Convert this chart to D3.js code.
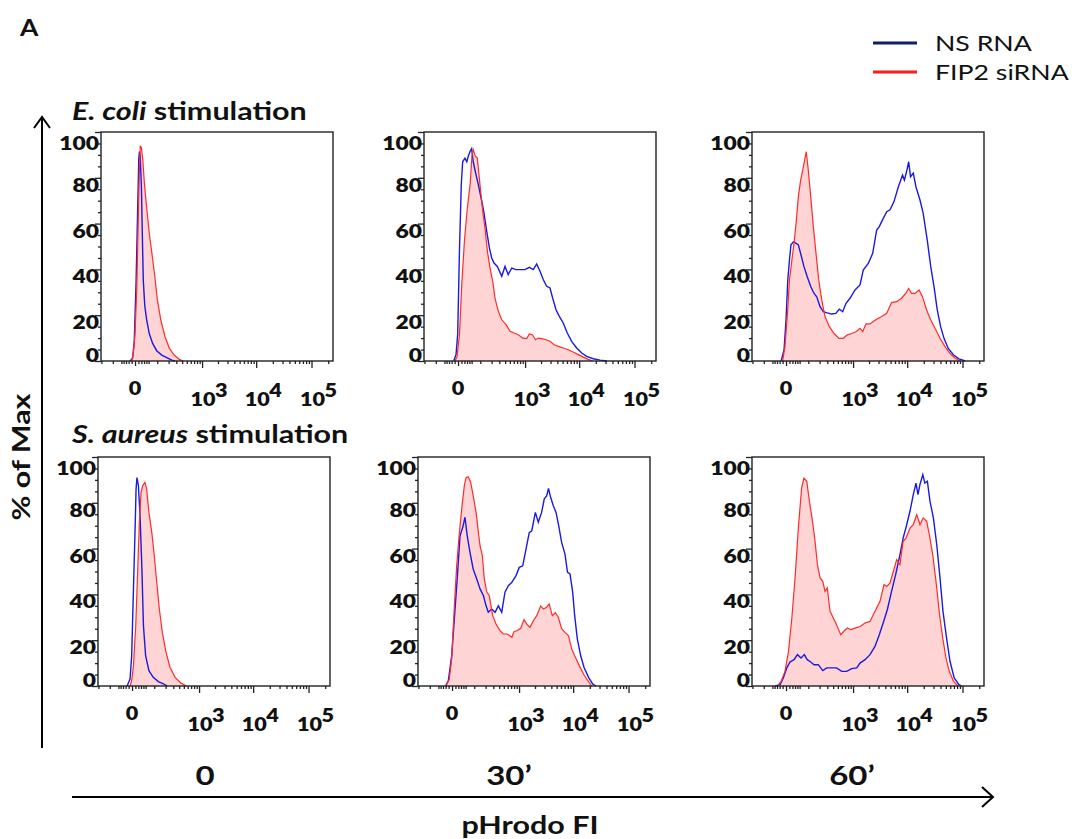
<!DOCTYPE html>
<html>
<head>
<meta charset="utf-8">
<script src="https://cdn.jsdelivr.net/npm/d3@7"></script>
<style>
  body { margin: 0; background: #fff; }
  svg text { font-family: Lato, "Open Sans", sans-serif; fill: #111; }
</style>
</head>
<body>
<svg id="chart" width="1075" height="839"></svg>
<script>
// histogram outlines: [pHrodo FI, % of max]
const ecoli0_ns = [[-15,0],[-7,1.2],[-2,9],[3,35],[7,62],[11,88],[13,91.5],[16,89],[20,76],[23,57],[27,35],[33,24],[41,18],[53,12],[71,7.7],[96,4.5],[134,2.6],[180,1.5],[237,0.4],[281,0]];
const ecoli0_fip2 = [[-10,0],[-5,3.3],[0,12],[5,32],[9.5,62],[13,83],[16,94],[20,93],[25,88],[31,78],[41,67],[53,56],[67,47],[84,37],[100,27],[126,18],[163,10.6],[209,5.5],[267,2.6],[350,0.7],[424,0]];

const ecoli30_ns = [[-13,0],[-5.7,2.8],[-1,11.5],[4,48],[9.5,77],[14,87],[22,88.6],[29,87],[35,89.4],[43,91.6],[50,92.7],[58,87],[73,81.4],[87,77],[111,69.7],[128,64.6],[151,56.6],[177,49.3],[201,45],[228,42.8],[271,41.3],[339,37],[398,41.3],[463,37.7],[547,40.6],[666,39.9],[798,39.9],[998,39.9],[1207,40.9],[1435,39.9],[1660,42.4],[1915,39.2],[2210,35.5],[2550,32.6],[2932,31.9],[3280,27.5],[3783,22.4],[4350,19.5],[5130,16.6],[6080,12.2],[7300,8.6],[9000,5.7],[11100,3.5],[13650,2],[18000,1],[23840,0.4],[31500,0]];
const ecoli30_fip2 = [[-9,0],[-2.6,2],[4,11.5],[11,33.3],[20,52.3],[31,66.8],[43,77],[52,90],[58,92.3],[69,89.4],[81,88.6],[98,77],[118,65.4],[136,58],[157,48],[183,40.6],[213,34.8],[240,27.5],[285,21.7],[339,18],[418,15.9],[505,13],[608,12.2],[740,11.5],[900,10],[1075,9.8],[1207,11.8],[1380,11.5],[1580,9.3],[1780,10],[2060,9.8],[2474,9.3],[2932,8.6],[3475,7.1],[4170,6.4],[5130,5.7],[6340,4.9],[7760,3.9],[9640,2.8],[11900,1.7],[14600,0.7],[17600,0]];

const ecoli60_ns = [[-15,0],[-5.7,4.8],[0,18],[5,35.4],[10,44],[15,50.7],[23.5,52],[34,51.4],[44,50.7],[57,46.3],[73,41.2],[93,36.8],[118,32.5],[145,29.5],[170,28],[205,23.7],[244,21.5],[300,21],[373,20.5],[453,20.8],[536,22.6],[627,21.5],[730,25.2],[873,27.4],[1090,31],[1356,33.2],[1560,39.7],[1940,42.6],[2340,47],[2770,57.2],[3100,58.7],[3550,61.6],[4240,65.2],[4876,66],[5760,69.6],[6900,76],[8240,81.2],[8900,79],[9900,83.4],[10650,87],[11500,80.5],[12900,82],[14440,76],[17050,70.3],[19500,64.5],[23100,52.8],[26700,41.2],[30600,32.5],[35000,22.3],[40300,15],[46330,9.9],[55300,5.5],[69000,2.6],[86500,0.9],[112000,0]];
const ecoli60_fip2 = [[-10,0],[-3,6.3],[4,20.8],[10,35.4],[18,44],[26,51.4],[34,60],[44,71.8],[55,79],[66,83.4],[77,87.8],[87,91.4],[100,83.4],[118,71.8],[139,58.7],[163,47],[190,35.4],[225,26.6],[267,19.4],[333,15],[418,12],[528,9.9],[645,9.9],[775,11.4],[940,12],[1139,12.8],[1356,14.3],[1520,12.8],[1758,16.2],[2086,16.2],[2400,17.2],[2770,18.2],[3430,19.4],[4240,20.8],[5200,25.5],[6440,25.9],[7890,27.4],[9400,29.5],[10650,31.7],[12000,29.5],[13850,29.5],[16400,31],[19000,28],[22500,22.3],[26700,17.9],[31900,14.3],[39250,9.9],[48300,6.3],[59460,3.3],[73500,1.2],[91000,0]];

const aureus0_ns = [[-15,0],[-5.7,3],[-1,13.2],[4,42.4],[9.5,71.5],[12,86],[15,91],[20,87.5],[26,74.4],[33,52.5],[40,26.3],[50,13.2],[67,6.7],[93,3.8],[131,1.9],[177,0.9],[220,0]];
const aureus0_fip2 = [[-5.7,0],[-1,2.3],[4,8.9],[11,26.3],[18,52.5],[23.5,71.5],[30,84.6],[37,87.5],[47,88.9],[55,86],[67,75.8],[84,67],[100,57],[118,45.3],[139,33.6],[166,23.4],[205,14.7],[253,8.2],[328,3.8],[432,1.3],[572,0]];

const aureus30_ns = [[-21,0],[-11,2.3],[-1,13.2],[9.5,35],[18,51],[26,65.6],[37,69.3],[47,73.7],[58,65.6],[73,58.4],[93,51],[118,46.7],[145,42.4],[177,39.4],[205,35],[231,32.2],[276,33.6],[328,32.2],[385,35],[453,32.2],[528,41],[617,43.8],[725,45.3],[873,48.2],[1010,51.8],[1175,52.5],[1356,59.8],[1560,67],[1740,67.8],[2030,75.8],[2300,71.5],[2650,75.8],[2970,81.7],[3280,83],[3550,86.3],[3880,82.4],[4350,78.7],[4876,75.8],[5450,70],[6170,62.7],[7100,57.6],[7890,49.6],[8760,48.9],[9800,41],[10650,30.7],[11900,20.5],[13700,13.2],[15700,8.2],[19000,3.8],[22500,0.9],[25900,0]];
const aureus30_fip2 = [[-18.6,0],[-8,3],[-1,11.8],[5.7,32.2],[14,52.5],[23.5,67],[34,78.7],[44,87.5],[52,91],[63,91.4],[77,89],[93,83],[113,75.8],[131,67],[145,61.3],[166,57],[186,46.7],[213,41],[244,39.4],[291,30.7],[344,27],[418,24.2],[488,22.7],[589,22.7],[725,21.3],[798,23.7],[925,24.2],[1075,25.2],[1243,29],[1400,27],[1612,25.6],[1860,28.5],[2150,30.7],[2550,35],[2860,33.6],[3280,34.4],[3650,35.8],[4170,30.7],[4750,32],[5370,30],[6170,25],[7100,23.4],[8200,22],[9400,16.2],[10650,13.2],[12900,8.9],[15700,4.8],[19000,1.9],[21700,0]];

const aureus60_ns = [[-38,0],[-18.6,0.6],[-8,3.5],[2,7.9],[12,10.5],[26,11.5],[40,13.7],[57,12.2],[75,13.7],[93,11.5],[118,10.5],[145,9.3],[186,9.3],[237,6.7],[291,7.9],[373,7.9],[470,7.9],[600,6.4],[755,6.4],[940,7.6],[1175,7.9],[1356,10],[1685,11.5],[2086,13.7],[2580,17.3],[3100,22.4],[3650,27.5],[4350,33.3],[5200,41.3],[6170,48.6],[7200,56],[8450,64.6],[9800,70.4],[11250,76.3],[12900,83.6],[14440,88.6],[15700,83.6],[17050,88],[19200,92.3],[20900,88.6],[23200,89.4],[25900,80.6],[29800,73.4],[34300,61.7],[39250,47.2],[44400,32.6],[51500,21],[59460,10.8],[70800,3.5],[86500,0.6],[96000,0]];
const aureus60_fip2 = [[-28,0],[-15,2],[-3,6.4],[7,15],[18,29.7],[30,47.2],[44,69],[60,86.5],[73,90.8],[90,89.4],[108,80.6],[128,73.4],[151,64.6],[177,53],[205,47.2],[237,45.7],[267,41.3],[300,42.8],[344,32.6],[404,29.7],[470,26.8],[572,22.4],[666,24],[775,25.3],[900,24.6],[1090,25.3],[1356,26],[1685,27.5],[2086,28.2],[2580,32.6],[3192,37],[3783,44.3],[4240,43.5],[4876,45],[5600,50],[6440,55.2],[7400,53],[8450,63.2],[9520,64.6],[11250,69],[12900,70.5],[14900,74.8],[17050,70.5],[19500,73.4],[22500,72],[25200,66],[29000,57.4],[33240,45.7],[38600,31],[43900,21],[50350,12.2],[57700,6.4],[69000,2],[83000,0]];

const timepoints = ["0", "30\u2019", "60\u2019"];
const stimulations = ["E. coli", "S. aureus"];
const seriesNames = ["NS RNA", "FIP2 siRNA"];
const panelData = [
  [[ecoli0_ns, ecoli0_fip2], [ecoli30_ns, ecoli30_fip2], [ecoli60_ns, ecoli60_fip2]],
  [[aureus0_ns, aureus0_fip2], [aureus30_ns, aureus30_fip2], [aureus60_ns, aureus60_fip2]]
];
const yTicks = [0, 20, 40, 60, 80, 100];
const yMinorTicks = [5,10,15,25,30,35,45,50,55,65,70,75,85,90,95];
const xTicks = [0, 1e3, 1e4, 1e5];
const xExponents = ["", "3", "4", "5"];
const xMinorTicks = [-200,-100,-50,-40,-30,-20,-10,10,20,30,40,50,100,200,300,400,500,600,700,800,900,
  2000,3000,4000,5000,6000,7000,8000,9000,20000,30000,40000,50000,60000,70000,80000,90000,200000];

// layout
const W = 232, H = 229;
const panelPos = [
  [{x: 101, y: 132}, {x: 424, y: 132}, {x: 752, y: 132}],
  [{x: 98, y: 457}, {x: 418, y: 457}, {x: 752, y: 457}]
];
const titleY = [120, 443];
const timeLabelX = [205, 509, 852];
const blue = "#1a1ae0", red = "#ff2b2b", pink = "#ffd4d4";
const SX = 1.27; // the figure's lettering is stretched sideways

const svg = d3.select("#chart");

// text drawn in a horizontally stretched group
function label(parent, x, y, str, size, o) {
  o = o || {};
  const g = parent.append("g")
    .attr("transform", "translate(" + x + "," + y + ")" + (o.rotate ? " rotate(" + o.rotate + ")" : "") +
      " scale(" + (o.sx || SX) + ",1)");
  const t = g.append("text")
    .attr("text-anchor", o.anchor || "start")
    .style("font-size", size + "px")
    .style("font-weight", o.weight || 700);
  if (o.baseline) t.attr("dominant-baseline", o.baseline);
  if (str !== null) t.text(str);
  return t;
}

const x = d3.scaleSymlog().constant(66).domain([-205, 244000]).range([0, W]);
const y = d3.scaleLinear().domain([0, 100]).range([H, 0]);

const line = d3.line().x(d => x(d[0])).y(d => y(d[1]));
const area = d3.area().x(d => x(d[0])).y0(y(0)).y1(d => y(d[1]));

panelData.forEach((row, r) => {
  row.forEach((pair, c) => {
    const pos = panelPos[r][c];
    const g = svg.append("g").attr("transform", "translate(" + pos.x + "," + pos.y + ")");

    g.append("path").datum(pair[1]).attr("d", area).attr("fill", pink);
    g.append("path").datum(pair[0]).attr("d", line)
      .attr("fill", "none").attr("stroke", blue).attr("stroke-width", 1.4);
    g.append("path").datum(pair[1]).attr("d", line)
      .attr("fill", "none").attr("stroke", red).attr("stroke-width", 1.2);

    g.append("rect").attr("width", W).attr("height", H)
      .attr("fill", "none").attr("stroke", "#222").attr("stroke-width", 1.4);

    // y axis
    const yMinor = g.append("g").call(d3.axisLeft(y).tickValues(yMinorTicks).tickSize(3).tickFormat(""));
    const yMajor = g.append("g").call(d3.axisLeft(y).tickValues(yTicks).tickSize(6).tickFormat(""));
    yTicks.forEach(v => {
      const ly = Math.min(Math.max(y(v) + 7, 11), H - 6);
      label(g, -2, ly, String(v), 18, {anchor: "end", baseline: "central", weight: 800});
    });

    // x axis
    const xg = g.append("g").attr("transform", "translate(0," + H + ")");
    xg.append("g").call(d3.axisBottom(x).tickValues(xMinorTicks).tickSize(3).tickFormat(""));
    xg.append("g").call(d3.axisBottom(x).tickValues(xTicks.slice(1)).tickSize(7).tickFormat(""));
    xg.append("g").call(d3.axisBottom(x).tickValues([0]).tickSize(5).tickFormat(""));

    [yMinor, yMajor, xg].forEach(a => {
      a.selectAll(".domain").remove();
      a.selectAll("line").attr("stroke", "#222").attr("stroke-width", 1.3);
    });

    xTicks.forEach((v, i) => {
      if (i === 0) {
        label(xg, x(v), 34, "0", 18, {anchor: "middle", sx: 1.2, weight: 800});
      } else {
        label(xg, x(v) + 1, 45, "10", 18, {anchor: "middle", sx: 1.2, weight: 800});
        label(xg, x(v) + 13, 36, xExponents[i], 18, {sx: 1.2, weight: 800});
      }
    });
  });
});

// row titles
stimulations.forEach((s, r) => {
  const t = label(svg, 72, titleY[r], null, 24);
  t.append("tspan").style("font-style", "italic").text(s);
  t.append("tspan").text(" stimulation");
});

// time labels
timepoints.forEach((t, c) => {
  label(svg, timeLabelX[c], 785, t, 26, {anchor: "middle"});
});

// panel letter
label(svg, 20, 36, "A", 23, {sx: 1.15});

// arrows
const arrow = svg.append("g").attr("stroke", "#000").attr("stroke-width", 2).attr("fill", "none");
arrow.append("line").attr("x1", 42).attr("y1", 748).attr("x2", 42).attr("y2", 117);
arrow.append("path").attr("d", "M34,128L42,117L50,128");
arrow.append("line").attr("x1", 72).attr("y1", 797).attr("x2", 993).attr("y2", 797);
arrow.append("path").attr("d", "M982,787L993,797L982,807");

label(svg, 530, 834, "pHrodo FI", 24, {anchor: "middle"});
label(svg, 30, 457, "% of Max", 24, {anchor: "middle", rotate: -90});

// legend
const legendColors = ["#0c1f6b", "#ff1a1a"];
seriesNames.forEach((n, i) => {
  const ly = 43 + i * 29;
  svg.append("line").attr("x1", 873).attr("x2", 917).attr("y1", ly).attr("y2", ly)
    .attr("stroke", legendColors[i]).attr("stroke-width", 3);
  label(svg, 935, ly, n, 21, {weight: 400, baseline: "central"});
});
</script>
</body>
</html>
